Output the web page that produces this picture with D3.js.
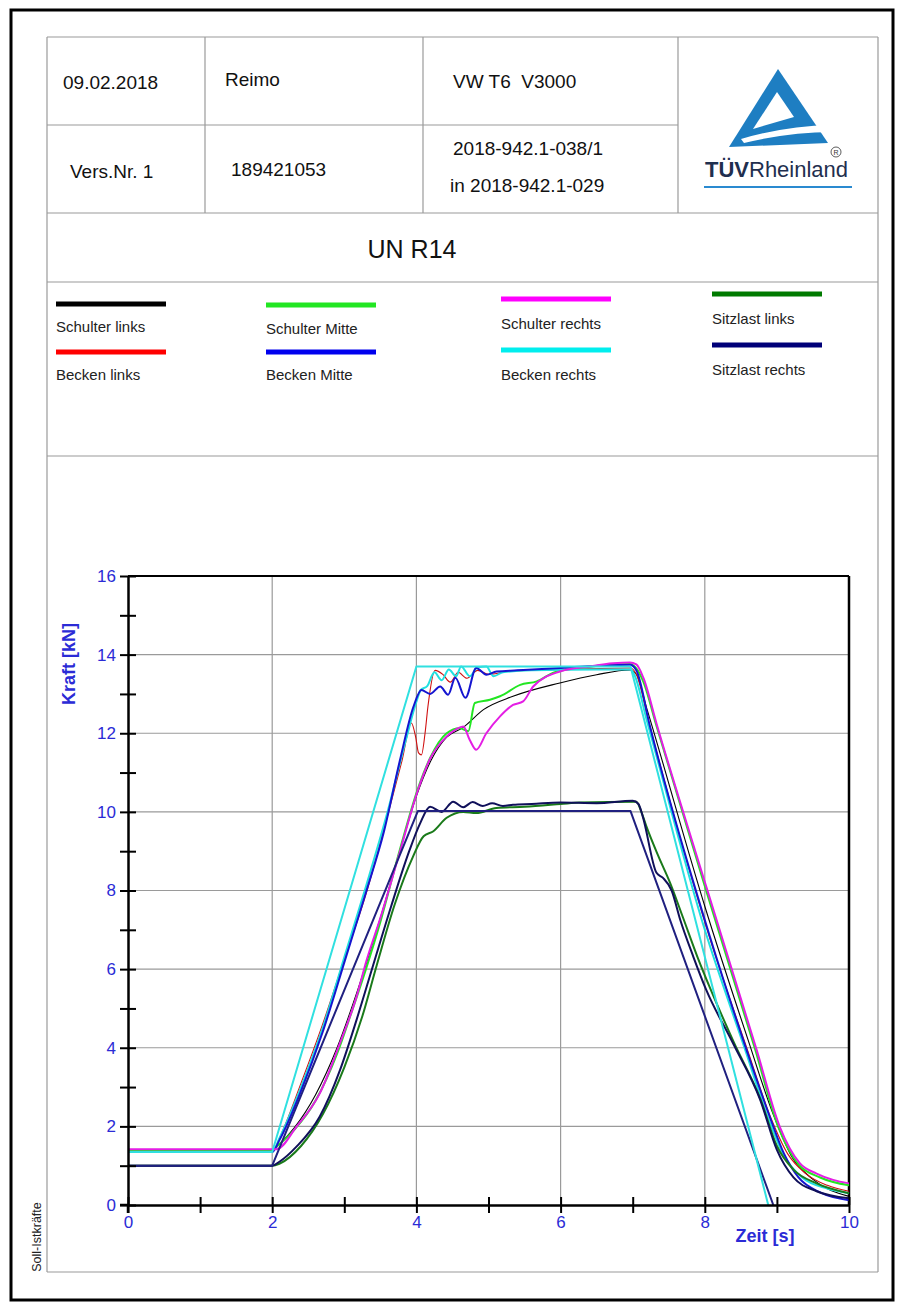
<!DOCTYPE html>
<html><head><meta charset="utf-8">
<script src="https://cdn.jsdelivr.net/npm/d3@7"></script>
<style>
html,body{margin:0;padding:0;background:#fff;}
svg{display:block;font-family:"Liberation Sans",Arial,sans-serif;}
</style></head><body>
<svg id="c" width="904" height="1313"></svg>
<script>
// ---------- DATA ----------
const xTicks = [0,1,2,3,4,5,6,7,8,9,10];
const yTicks = [0,1,2,3,4,5,6,7,8,9,10,11,12,13,14,15,16];
const xLabel = "Zeit [s]";
const yLabel = "Kraft [kN]";

const headerTexts = ["09.02.2018","Reimo","VW T6  V3000","Vers.Nr. 1","189421053","2018-942.1-038/1","in 2018-942.1-029"];
const titleText = "UN R14";
const seriesNames = ["Schulter links","Becken links","Schulter Mitte","Becken Mitte","Schulter rechts","Becken rechts","Sitzlast links","Sitzlast rechts"];
const seriesColors = ["#000000","#ff0000","#22e622","#0000ee","#ff00ff","#00eeee","#007a00","#000078"];

// target (Soll) curves
const sollSchulter = [[0,1.35],[2,1.35],[4,13.7],[6.97,13.7],[8.88,0]];
const sollSitz = [[0,1.0],[2,1.0],[4.02,10.02],[6.97,10.02],[8.95,0]];

// measured (Ist) curves [t, kN]
const schulterLinks = [[0,1.4],[2,1.4],[2.1,1.55],[2.3,1.95],[2.6,2.8],[2.9,4.0],[3.2,5.55],[3.5,7.3],[3.8,9.2],[4.0,10.4],[4.2,11.3],[4.42,11.9],[4.65,12.15],[4.93,12.6],[5.34,12.94],[5.99,13.28],[6.5,13.49],[6.96,13.61],[7.05,13.5],[7.2,12.6],[8.0,7.6],[8.6,4.2],[8.95,2.3],[9.2,1.25],[9.5,0.65],[10,0.22]];
const beckenLinks = [[0,1.35],[2,1.35],[2.1,1.7],[2.4,3.1],[2.7,4.6],[2.96,6.03],[3.3,7.9],[3.6,9.9],[3.8,11.3],[3.93,12.26],[3.99,11.9],[4.03,11.5],[4.07,11.45],[4.12,12.0],[4.16,12.68],[4.26,13.6],[4.37,13.49],[4.47,13.3],[4.58,13.55],[4.7,13.4],[4.85,13.6],[5.0,13.5],[5.3,13.58],[6.0,13.62],[6.97,13.66],[7.05,13.5],[7.22,12.3],[8.05,6.9],[8.6,3.9],[8.92,2.2],[9.15,1.3],[9.4,0.8],[9.7,0.5],[10,0.35]];
const schulterMitte = [[0,1.4],[2,1.4],[2.1,1.55],[2.3,1.9],[2.6,2.65],[2.9,3.85],[3.1,4.9],[3.3,6.0],[3.5,7.2],[3.75,8.9],[4.03,10.64],[4.19,11.37],[4.42,12.0],[4.6,12.13],[4.72,12.05],[4.81,12.77],[5.02,12.85],[5.16,12.94],[5.44,13.23],[5.67,13.32],[5.9,13.54],[6.27,13.66],[6.96,13.76],[7.05,13.65],[7.15,13.3],[7.32,12.25],[8.01,8.05],[8.7,3.95],[9.02,1.98],[9.3,1.03],[9.6,0.7],[10,0.5]];
const beckenMitte = [[0,1.35],[2,1.35],[2.1,1.65],[2.4,2.9],[2.7,4.4],[3.01,6.23],[3.3,7.95],[3.55,9.5],[3.77,11.3],[3.96,12.68],[4.07,13.1],[4.19,13.0],[4.33,13.19],[4.44,12.98],[4.54,13.41],[4.68,12.9],[4.83,13.66],[4.97,13.49],[5.11,13.57],[5.4,13.6],[6.0,13.66],[6.96,13.74],[7.05,13.6],[7.24,12.17],[8.07,6.83],[8.58,3.94],[8.9,2.25],[9.1,1.3],[9.3,0.7],[9.6,0.32],[10,0.12]];
const schulterRechts = [[0,1.42],[2,1.42],[2.06,1.42],[2.34,2.0],[2.66,2.84],[2.94,4.12],[3.17,5.3],[3.31,6.23],[3.5,7.3],[3.75,8.85],[4.03,10.6],[4.19,11.35],[4.42,11.92],[4.55,12.1],[4.65,12.17],[4.74,11.83],[4.83,11.58],[4.97,12.0],[5.16,12.43],[5.34,12.72],[5.48,12.81],[5.62,13.19],[5.99,13.57],[6.4,13.7],[6.73,13.78],[6.96,13.8],[7.05,13.75],[7.15,13.4],[7.33,12.25],[8.02,8.1],[8.72,3.94],[9.04,1.99],[9.32,1.06],[9.55,0.8],[9.78,0.64],[10,0.55]];
const beckenRechts = [[0,1.35],[2,1.35],[2.1,1.7],[2.4,3.0],[2.7,4.5],[3.0,6.3],[3.3,8.1],[3.6,10.0],[3.85,11.8],[4.0,12.8],[4.06,13.1],[4.15,13.2],[4.25,13.55],[4.35,13.35],[4.45,13.62],[4.55,13.45],[4.62,13.7],[4.74,13.45],[4.85,13.68],[4.97,13.7],[5.07,13.45],[5.2,13.55],[5.6,13.6],[6.5,13.62],[6.97,13.62],[7.02,13.5],[7.2,12.3],[8.0,7.0],[8.55,4.0],[8.88,2.2],[9.1,1.25],[9.35,0.7],[9.7,0.42],[10,0.3]];
const sitzlastLinks = [[0,1.0],[2,1.0],[2.1,1.05],[2.4,1.5],[2.7,2.3],[3.0,3.5],[3.25,4.8],[3.45,6.1],[3.7,7.65],[3.95,8.85],[4.1,9.38],[4.23,9.5],[4.42,9.85],[4.65,10.0],[4.83,9.97],[5.11,10.1],[5.5,10.13],[6.0,10.2],[6.27,10.24],[7.05,10.26],[7.12,10.0],[7.19,9.63],[7.35,8.9],[7.52,8.19],[7.7,7.3],[7.9,6.3],[8.1,5.4],[8.4,4.15],[8.77,2.7],[9.0,1.5],[9.23,0.9],[9.55,0.55],[10,0.3]];
const sitzlastRechts = [[0,1.0],[2,1.0],[2.1,1.1],[2.34,1.49],[2.66,2.25],[2.94,3.43],[3.17,4.71],[3.4,6.1],[3.65,7.6],[3.9,9.0],[4.05,9.7],[4.19,10.13],[4.35,10.0],[4.51,10.26],[4.65,10.12],[4.78,10.25],[4.92,10.15],[5.05,10.22],[5.2,10.15],[5.34,10.18],[5.6,10.2],[6.0,10.24],[6.5,10.22],[7.0,10.28],[7.08,10.2],[7.14,9.88],[7.33,8.45],[7.42,8.32],[7.54,8.0],[7.66,7.25],[7.84,6.32],[8.02,5.47],[8.39,4.12],[8.77,2.67],[9.0,1.4],[9.23,0.7],[9.55,0.35],[10,0.17]];

// ---------- DRAW ----------
const svg = d3.select("#c");
const gridCol = "#9a9a9a";
const blueTxt = "#2b2bd6";

// outer border
svg.append("rect").attr("x",11).attr("y",10).attr("width",882).attr("height",1290)
  .attr("fill","none").attr("stroke","#000").attr("stroke-width",3);

// table lines
const hl = [[37,47,878],[125,47,678],[213,47,878],[282,47,878],[456,47,878],[1272,47,878]];
hl.forEach(([yy,x1,x2]) => svg.append("line").attr("x1",x1).attr("x2",x2).attr("y1",yy).attr("y2",yy).attr("stroke",gridCol).attr("stroke-width",1.2));
const vl = [[47,37,1272],[878,37,1272],[205,37,213],[423,37,213],[678,37,213]];
vl.forEach(([xx,y1,y2]) => svg.append("line").attr("x1",xx).attr("x2",xx).attr("y1",y1).attr("y2",y2).attr("stroke",gridCol).attr("stroke-width",1.2));

// header texts
const hpos = [[63,89],[225,86],[453,88],[70,178],[231,176],[453,155],[450,192]];
headerTexts.forEach((t,i) => svg.append("text").attr("x",hpos[i][0]).attr("y",hpos[i][1])
  .attr("font-size",19).attr("fill","#111").style("white-space","pre").text(t));
svg.append("text").attr("x",412).attr("y",258).attr("text-anchor","middle").attr("font-size",25).attr("fill","#111").text(titleText);

// logo
const logoBlue = "#1e7ec2";
svg.append("path").attr("d","M778,69 L729,147 L828,143 Z").attr("fill",logoBlue);
svg.append("path").attr("d","M777,92 L753,129 L794,117 Z").attr("fill","#fff");
svg.append("path").attr("d","M741,139 Q785,126 832,125 L832,132 Q790,132 744,143 Z").attr("fill","#fff");
const lt = svg.append("text").attr("x",705).attr("y",177).attr("font-size",22).attr("fill","#1f2f4f");
lt.append("tspan").attr("font-weight","bold").text("TÜV");
lt.append("tspan").text("Rheinland");
svg.append("circle").attr("cx",836).attr("cy",152).attr("r",5).attr("fill","none").attr("stroke","#333").attr("stroke-width",0.8);
svg.append("text").attr("x",836).attr("y",155).attr("text-anchor","middle").attr("font-size",7).attr("fill","#333").text("R");
svg.append("line").attr("x1",704).attr("x2",852).attr("y1",187).attr("y2",187).attr("stroke","#2a8ad0").attr("stroke-width",2);

// legend
const legPos = [[56,304,332],[56,352,380],[266,305,334],[266,352,380],[501,299,329],[501,350,380],[712,294,324],[712,345,375]];
seriesNames.forEach((n,i) => {
  const [lx,ly,ty] = legPos[i];
  svg.append("line").attr("x1",lx).attr("x2",lx+110).attr("y1",ly).attr("y2",ly).attr("stroke",seriesColors[i]).attr("stroke-width",5);
  svg.append("text").attr("x",lx).attr("y",ty).attr("font-size",15).attr("fill","#222").text(n);
});

// chart
const x = d3.scaleLinear().domain([0,10]).range([128,849]);
const y = d3.scaleLinear().domain([0,16]).range([1205,576]);

// grid
[2,4,6,8].forEach(v => svg.append("line").attr("x1",x(v)).attr("x2",x(v)).attr("y1",y(0)).attr("y2",y(16)).attr("stroke",gridCol).attr("stroke-width",1.2));
[2,4,6,8,10,12,14].forEach(v => svg.append("line").attr("x1",x(0)).attr("x2",x(10)).attr("y1",y(v)).attr("y2",y(v)).attr("stroke",gridCol).attr("stroke-width",1.2));

// frame top/right
svg.append("line").attr("x1",x(0)).attr("x2",x(10)).attr("y1",y(16)).attr("y2",y(16)).attr("stroke","#000").attr("stroke-width",2);
svg.append("line").attr("x1",x(10)).attr("x2",x(10)).attr("y1",y(16)).attr("y2",y(0)).attr("stroke","#000").attr("stroke-width",2.5);

// curves
const lineS = d3.line().x(d=>x(d[0])).y(d=>y(d[1])).curve(d3.curveMonotoneX);
const lineL = d3.line().x(d=>x(d[0])).y(d=>y(d[1]));
const curves = [
  [schulterLinks, seriesColors[0], 1.1, lineS],
  [beckenLinks, "#d01010", 1.1, lineS],
  [schulterMitte, seriesColors[2], 2, lineS],
  [beckenRechts, "#20e0e0", 2, lineS],
  [beckenMitte, "#1515d0", 2, lineS],
  [schulterRechts, "#e41ee4", 2, lineS],
  [sitzlastLinks, "#1a7a1a", 2, lineS],
  [sitzlastRechts, "#10105a", 2, lineS],
  [sollSitz, "#202080", 2, lineL],
  [sollSchulter, "#30e0e0", 2, lineL]
];
curves.forEach(([data,col,w,gen]) => svg.append("path").attr("d",gen(data)).attr("fill","none")
  .attr("stroke",col).attr("stroke-width",w).attr("stroke-linejoin","round"));

// axes
const ax = svg.append("g").attr("transform",`translate(${x(0)},0)`)
  .call(d3.axisLeft(y).tickValues(yTicks).tickFormat(d => d%2===0 ? d : "").tickSize(8).tickSizeOuter(0).tickPadding(4));
ax.selectAll(".tick line").attr("x1",8).attr("stroke-width",2);
ax.select(".domain").attr("stroke-width",2.5);
ax.selectAll("text").attr("font-size",17).attr("fill",blueTxt).attr("font-family","Liberation Sans, Arial, sans-serif");

const bx = svg.append("g").attr("transform",`translate(0,${y(0)})`)
  .call(d3.axisBottom(x).tickValues(xTicks).tickFormat(d => d%2===0 ? d : "").tickSize(8).tickSizeOuter(0).tickPadding(3));
bx.selectAll(".tick line").attr("y1",-8).attr("stroke-width",2);
bx.select(".domain").attr("stroke-width",2.5);
bx.selectAll("text").attr("font-size",17).attr("fill",blueTxt).attr("font-family","Liberation Sans, Arial, sans-serif");

// small axis overshoots
svg.append("line").attr("x1",x(0)-8).attr("x2",x(0)).attr("y1",y(0)).attr("y2",y(0)).attr("stroke","#000").attr("stroke-width",2.5);
svg.append("line").attr("x1",x(0)).attr("x2",x(0)).attr("y1",y(0)).attr("y2",y(0)+8).attr("stroke","#000").attr("stroke-width",2.5);

// axis titles
svg.append("text").attr("transform","translate(75,664) rotate(-90)").attr("text-anchor","middle")
  .attr("font-size",18).attr("font-weight","bold").attr("fill",blueTxt).text(yLabel);
svg.append("text").attr("x",765).attr("y",1242).attr("text-anchor","middle")
  .attr("font-size",18).attr("font-weight","bold").attr("fill",blueTxt).text(xLabel);

// side note
svg.append("text").attr("transform","translate(41,1237) rotate(-90)").attr("text-anchor","middle")
  .attr("font-size",12.5).attr("fill","#222").text("Soll-Istkräfte");
</script>
</body></html>
